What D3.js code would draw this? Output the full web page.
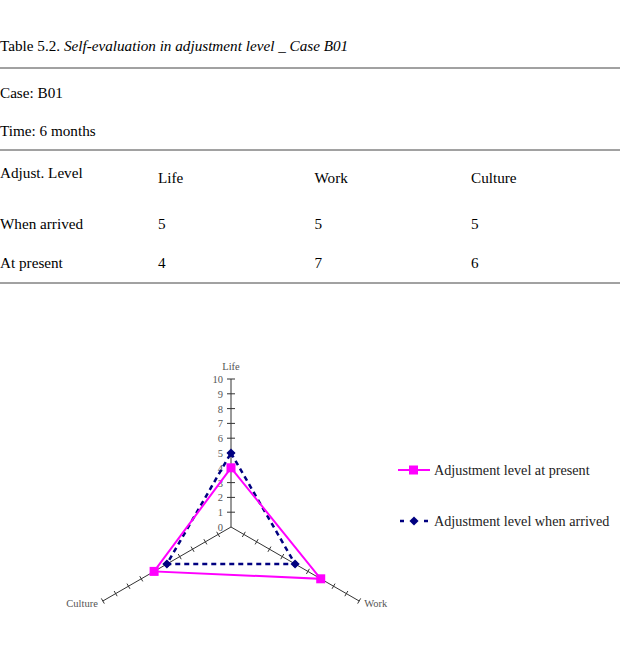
<!DOCTYPE html>
<html>
<head>
<meta charset="utf-8">
<title>Table 5.2 - Case B01</title>
<script src="https://d3js.org/d3.v7.min.js"></script>
<style>
    body { margin: 0; background: #fff; }
    svg text { font-family: "Liberation Serif", "DejaVu Serif", serif; }
</style>
</head>
<body>
<script>
    // data
    let dimensions = ["Life", "Work", "Culture"];
    let whenArrived = [5, 5, 5];
    let atPresent = [4, 7, 6];
    let levelTicks = [0, 1, 2, 3, 4, 5, 6, 7, 8, 9, 10];
    let seriesNames = ["Adjustment level at present", "Adjustment level when arrived"];

    let width = 630, height = 658;
    let fs = "15.2px";

    let svg = d3.select("body").append("svg")
        .attr("width", width)
        .attr("height", height);

    // ---- table ----
    let table = svg.append("g").attr("class", "table");

    let title = table.append("text")
        .attr("x", 0).attr("y", 51)
        .style("font-size", fs);
    title.append("tspan").text("Table 5.2. ");
    title.append("tspan").style("font-style", "italic")
        .text("Self-evaluation in adjustment level _ Case B01");

    [68, 150, 283].forEach(y => {
        table.append("line")
            .attr("x1", 0).attr("x2", 620)
            .attr("y1", y).attr("y2", y)
            .attr("stroke", "#444").attr("stroke-width", 1);
    });

    table.append("text").attr("x", 0).attr("y", 98).style("font-size", fs).text("Case: B01");
    table.append("text").attr("x", 0).attr("y", 136).style("font-size", fs).text("Time: 6 months");
    table.append("text").attr("x", 0).attr("y", 178).style("font-size", fs).text("Adjust. Level");

    let colX = d3.scalePoint().domain(dimensions).range([158, 471]);

    table.selectAll("text.head")
        .data(dimensions)
        .join("text")
        .attr("class", "head")
        .attr("x", d => colX(d)).attr("y", 183)
        .style("font-size", fs)
        .text(d => d);

    let rows = [
        { label: "When arrived", values: whenArrived, y: 229 },
        { label: "At present", values: atPresent, y: 268 }
    ];
    rows.forEach(r => {
        table.append("text").attr("x", 0).attr("y", r.y).style("font-size", fs).text(r.label);
        table.selectAll(null)
            .data(r.values)
            .join("text")
            .attr("x", (d, i) => colX(dimensions[i])).attr("y", r.y)
            .style("font-size", fs)
            .text(d => d);
    });

    // ---- radar chart ----
    let cx = 231, cy = 527, radius = 148;
    let r = d3.scaleLinear().domain([0, 10]).range([0, radius]);
    let angle = i => -Math.PI / 2 + i * 2 * Math.PI / 3;
    let point = (v, i) => [cx + r(v) * Math.cos(angle(i)), cy + r(v) * Math.sin(angle(i))];

    let radar = svg.append("g").attr("class", "radar");

    dimensions.forEach((d, i) => {
        let end = point(10, i);
        radar.append("line")
            .attr("x1", cx).attr("y1", cy)
            .attr("x2", end[0]).attr("y2", end[1])
            .attr("stroke", "#333").attr("stroke-width", 1);

        let a = angle(i), px = -Math.sin(a), py = Math.cos(a);
        let tl = i === 0 ? 4 : 3;
        radar.selectAll(null)
            .data(levelTicks.slice(1))
            .join("line")
            .attr("x1", v => point(v, i)[0] - px * tl)
            .attr("y1", v => point(v, i)[1] - py * tl)
            .attr("x2", v => point(v, i)[0] + px * tl)
            .attr("y2", v => point(v, i)[1] + py * tl)
            .attr("stroke", "#333").attr("stroke-width", 1);
    });

    radar.selectAll("text.tick")
        .data(levelTicks)
        .join("text")
        .attr("class", "tick")
        .attr("x", cx - 8)
        .attr("y", v => cy - r(v) + 4)
        .attr("text-anchor", "end")
        .style("font-size", "10.5px").style("fill", "#555")
        .text(v => v);

    radar.append("text").attr("x", cx).attr("y", 370).attr("text-anchor", "middle")
        .style("font-size", "10.5px").style("fill", "#555").text(dimensions[0]);
    radar.append("text").attr("x", point(10, 1)[0] + 5).attr("y", 607).attr("text-anchor", "start")
        .style("font-size", "10.5px").style("fill", "#555").text(dimensions[1]);
    radar.append("text").attr("x", point(10, 2)[0] - 5).attr("y", 607).attr("text-anchor", "end")
        .style("font-size", "10.5px").style("fill", "#555").text(dimensions[2]);

    let line = d3.line();
    let closed = vals => vals.map((v, i) => point(v, i)).concat([point(vals[0], 0)]);

    radar.append("path")
        .attr("d", line(closed(whenArrived)))
        .attr("fill", "none")
        .attr("stroke", "#000080").attr("stroke-width", 2.5)
        .attr("stroke-dasharray", "5,4");

    radar.append("path")
        .attr("d", line(closed(atPresent)))
        .attr("fill", "none")
        .attr("stroke", "#ff00ff").attr("stroke-width", 2);

    // diamond = square turned 45 degrees
    let diamond = d3.symbol().type(d3.symbolSquare).size(42);
    radar.selectAll("path.arrived")
        .data(whenArrived)
        .join("path")
        .attr("class", "arrived")
        .attr("d", diamond)
        .attr("transform", (v, i) => `translate(${point(v, i)}) rotate(45)`)
        .attr("fill", "#000080");

    radar.selectAll("rect.present")
        .data(atPresent)
        .join("rect")
        .attr("class", "present")
        .attr("x", (v, i) => point(v, i)[0] - 4.5)
        .attr("y", (v, i) => point(v, i)[1] - 4.5)
        .attr("width", 9).attr("height", 9)
        .attr("fill", "#ff00ff");

    // ---- legend ----
    let legend = svg.append("g").attr("class", "legend");
    let ly = [470, 521];

    legend.append("line").attr("x1", 398).attr("x2", 430).attr("y1", ly[0]).attr("y2", ly[0])
        .attr("stroke", "#ff00ff").attr("stroke-width", 2);
    legend.append("rect").attr("x", 409).attr("y", ly[0] - 4.5).attr("width", 9).attr("height", 9)
        .attr("fill", "#ff00ff");
    legend.append("line").attr("x1", 400).attr("x2", 430).attr("y1", ly[1]).attr("y2", ly[1])
        .attr("stroke", "#000080").attr("stroke-width", 2.5).attr("stroke-dasharray", "4,8");
    legend.append("path").attr("d", diamond).attr("transform", `translate(414,${ly[1]}) rotate(45)`)
        .attr("fill", "#000080");

    legend.selectAll("text")
        .data(seriesNames)
        .join("text")
        .attr("x", 434).attr("y", (d, i) => ly[i] + 5)
        .style("font-size", "14.2px").style("fill", "#222")
        .text(d => d);
</script>
</body>
</html>
